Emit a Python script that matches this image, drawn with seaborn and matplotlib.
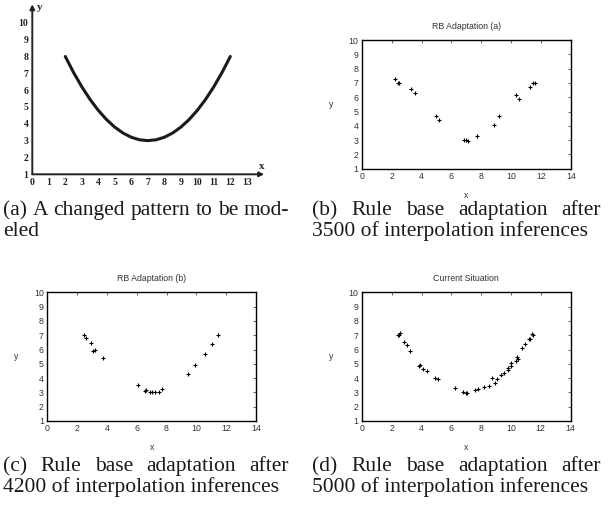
import numpy as np
import matplotlib
matplotlib.use("Agg")
import matplotlib.pyplot as plt
import pandas as pd
import seaborn as sns

sns.set_style("white")

# (a) the changed pattern
curve_x = [2, 2.5, 3, 3.5, 4, 4.5, 5, 5.5, 6, 6.5, 7, 7.5, 8, 8.5, 9, 9.5, 10, 10.5, 11, 11.5, 12]
curve_y = [8.0, 7.05, 6.2, 5.45, 4.8, 4.25, 3.8, 3.45, 3.2, 3.05, 3.0, 3.05, 3.2, 3.45, 3.8, 4.25,
           4.8, 5.45, 6.2, 7.05, 8.0]

# (b) RB Adaptation (a)
rb_a_x = [2.21, 2.42, 2.50, 3.30, 3.59, 4.99, 5.20, 6.87, 7.00, 7.13, 7.74, 8.85, 9.16, 10.35, 10.50,
          11.28, 11.46, 11.57]
rb_a_y = [7.28, 6.99, 6.98, 6.58, 6.30, 4.70, 4.40, 3.00, 2.98, 2.93, 3.28, 4.07, 4.67, 6.12, 5.84,
          6.74, 6.98, 6.98]

# (c) RB Adaptation (b)
rb_b_x = [2.46, 2.61, 2.95, 3.08, 3.19, 3.77, 6.09, 6.56, 6.65, 6.90, 7.00, 7.25, 7.50, 7.68, 9.42,
          9.89, 10.60, 11.05, 11.47]
rb_b_y = [6.98, 6.79, 6.44, 5.91, 5.95, 5.40, 3.49, 3.12, 3.19, 3.00, 3.00, 3.00, 3.00, 3.23, 4.28,
          4.95, 5.67, 6.35, 6.98]

# (d) Current Situation
cur_x = [2.39, 2.50, 2.52, 2.85, 2.99, 3.21, 3.83, 3.90, 4.08, 4.35, 4.88, 5.08, 6.22, 6.80, 6.98,
         7.07, 7.60, 7.78, 8.16, 8.54, 8.72, 8.94, 9.05, 9.36, 9.54, 9.77, 9.83, 10.01, 10.01, 10.35,
         10.41, 10.50, 10.75, 10.93, 11.22, 11.30, 11.42, 11.48]
cur_y = [7.00, 7.00, 7.16, 6.51, 6.30, 5.88, 4.88, 4.95, 4.67, 4.47, 3.98, 3.91, 3.28, 3.00, 2.98,
         2.98, 3.14, 3.21, 3.40, 3.47, 3.98, 3.67, 3.93, 4.23, 4.35, 4.60, 4.70, 4.86, 5.05, 5.21,
         5.51, 5.37, 6.07, 6.35, 6.72, 6.74, 7.07, 6.98]

titles = ["RB Adaptation (a)", "RB Adaptation (b)", "Current Situation"]
captions = [
    ("(a) A changed pattern to be mod-", "eled"),
    ("(b) Rule base adaptation after", "3500 of interpolation inferences"),
    ("(c) Rule base adaptation after", "4200 of interpolation inferences"),
    ("(d) Rule base adaptation after", "5000 of interpolation inferences"),
]

W, H = 612, 508
fig = plt.figure(figsize=(W / 100, H / 100), dpi=100)


def px_axes(left, top, right, bottom):
    return fig.add_axes([left / W, 1 - bottom / H, (right - left) / W, (bottom - top) / H])


# ---- panel (a): scanned-looking hand drawn axes
ax = px_axes(32.3, 6, 263.3, 174.3)
sns.lineplot(x=curve_x, y=curve_y, ax=ax, color="#1a1a1a", linewidth=2.2, sort=False)
ax.set_xlim(0, 14)
ax.set_ylim(1, 11)
for s in ax.spines.values():
    s.set_visible(False)
ax.set_xticks(range(0, 14))
ax.set_yticks(range(1, 11))
ax.tick_params(direction="inout", length=3, width=1, colors="#222", pad=1.5)
for lab in ax.get_xticklabels() + ax.get_yticklabels():
    lab.set_family("Liberation Serif")
    lab.set_fontweight("bold")
    lab.set_fontsize(7)
arrow = dict(arrowstyle="-|>", lw=1.4, color="#222", mutation_scale=7, shrinkA=0, shrinkB=0)
ax.annotate("", xy=(14.05, 1), xytext=(0, 1), arrowprops=arrow, annotation_clip=False)
ax.annotate("", xy=(0, 11.1), xytext=(0, 1), arrowprops=arrow, annotation_clip=False)
ax.text(0.25, 10.75, "y", family="Liberation Serif", fontweight="bold", fontsize=8, color="#222")
ax.text(13.75, 1.3, "x", family="Liberation Serif", fontweight="bold", fontsize=8, color="#222")

# ---- panels (b)-(d): gnuplot style scatter
boxes = [(361.7, 40, 571, 168.7), (47.3, 292.3, 256, 421), (362, 292.3, 570.5, 421)]
series = [(rb_a_x, rb_a_y), (rb_b_x, rb_b_y), (cur_x, cur_y)]
for box, (xs, ys), title in zip(boxes, series, titles):
    ax = px_axes(*box)
    sns.scatterplot(x=xs, y=ys, ax=ax, marker="+", s=7, color="black", linewidth=0.8)
    ax.set_xlim(0, 14)
    ax.set_ylim(1, 10)
    ax.set_xticks(range(0, 15, 2))
    ax.set_yticks(range(1, 11))
    ax.tick_params(direction="in", length=2.5, width=0.5, top=True, right=True,
                   labelsize=6.3, labelcolor="#333", pad=2.5)
    for lab in ax.get_xticklabels() + ax.get_yticklabels():
        lab.set_family("Liberation Sans")
    for s in ax.spines.values():
        s.set_linewidth(1.0)
        s.set_color("black")
    ax.set_title(title, fontsize=6.3, color="#333", family="Liberation Sans", pad=8)
    ax.set_xlabel("x", fontsize=6.3, color="#333", family="Liberation Sans")
    ax.set_ylabel("y", fontsize=6.3, color="#333", family="Liberation Sans", rotation=0)
    bw, bh = box[2] - box[0], box[3] - box[1]
    ax.xaxis.set_label_coords(0.5, -22 / bh)
    ax.yaxis.set_label_coords(-31 / bw, 0.5)
    ax.yaxis.label.set_va("center")


# ---- captions (first line justified to the column)
def justified(text, x0, x1, y, **kw):
    words = text.split()
    items = [fig.text(x0 / W, 1 - y / H, w, **kw) for w in words]
    fig.canvas.draw()
    r = fig.canvas.get_renderer()
    widths = [t.get_window_extent(r).width for t in items]
    gap = (x1 - x0 - sum(widths)) / (len(words) - 1)
    pos = x0
    for t, w in zip(items, widths):
        t.set_x(pos / W)
        pos += w + gap


cap_kw = dict(family="Liberation Serif", fontsize=15.5, color="#1a1a1a", va="baseline")
cols = [(3, 289), (312, 601), (3, 289), (312, 601)]
rows = [(215, 236), (215, 236), (471, 492), (471, 492)]
for (l1, l2), (x0, x1), (y1, y2) in zip(captions, cols, rows):
    justified(l1, x0, x1, y1, **cap_kw)
    fig.text(x0 / W, 1 - y2 / H, l2, **cap_kw)

fig.savefig("out.png", dpi=100)
